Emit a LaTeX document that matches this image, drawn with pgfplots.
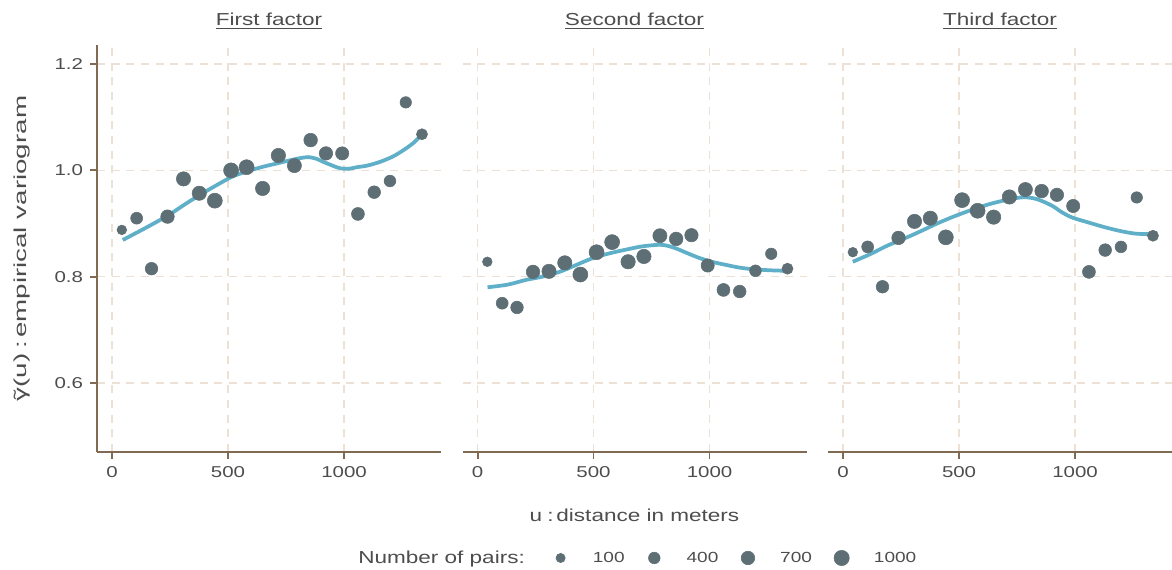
\documentclass[border=0pt]{standalone}
\usepackage{pgfplots}
\pgfplotsset{compat=1.18}
\usepackage{pgfplotstable}
\usepackage{fontspec}
\setmainfont{Liberation Sans}[FakeStretch=1.3]
\newfontfamily\ylabfont{Liberation Sans}[FakeStretch=1.6]

\definecolor{ptcol}{RGB}{94,110,117}
\definecolor{fitcol}{RGB}{94,175,199}
\definecolor{axcol}{RGB}{128,106,81}
\definecolor{gridcol}{RGB}{236,225,212}
\definecolor{txtcol}{RGB}{77,77,77}

% lag distance (m), empirical variogram, number of pairs
\pgfplotstableread{
u v n
42 0.888 150
106 0.910 450
170 0.815 550
239 0.913 700
308 0.984 830
376 0.957 830
443 0.943 950
513 1.000 950
580 1.006 950
649 0.966 840
717 1.028 840
786 1.009 800
856 1.057 720
922 1.032 680
992 1.032 650
1060 0.918 600
1130 0.959 560
1198 0.980 420
1266 1.128 380
1336 1.068 330
}\first
\pgfplotstableread{
u v n
42 0.828 150
106 0.750 450
170 0.742 550
239 0.809 700
308 0.810 830
376 0.826 830
443 0.804 950
513 0.846 950
580 0.865 950
649 0.828 840
717 0.838 840
786 0.877 800
856 0.871 720
922 0.878 680
992 0.821 650
1060 0.775 600
1130 0.772 560
1198 0.811 420
1266 0.843 380
1336 0.815 330
}\second
\pgfplotstableread{
u v n
42 0.846 150
106 0.856 450
170 0.781 550
239 0.873 700
308 0.904 830
376 0.910 830
443 0.874 950
513 0.944 950
580 0.924 950
649 0.912 840
717 0.950 840
786 0.964 800
856 0.961 720
922 0.954 680
992 0.933 650
1060 0.809 600
1130 0.850 560
1198 0.856 420
1266 0.949 380
1336 0.877 330
}\third

% smoothed curves
\pgfplotstableread{
u v
46 0.869
150 0.893
244 0.916
310 0.935
379 0.954
450 0.972
517 0.988
580 0.998
652 1.007
710 1.013
767 1.019
810 1.023
846 1.025
880 1.022
911 1.016
950 1.009
983 1.004
1020 1.003
1055 1.006
1100 1.009
1155 1.016
1210 1.026
1256 1.038
1300 1.052
1336 1.068
}\firstfit
\pgfplotstableread{
u v
43 0.780
130 0.785
210 0.794
280 0.800
353 0.809
420 0.821
497 0.835
570 0.844
641 0.851
710 0.857
784 0.860
820 0.858
856 0.853
900 0.845
957 0.835
1010 0.828
1072 0.822
1130 0.817
1187 0.814
1260 0.812
1331 0.811
}\secondfit
\pgfplotstableread{
u v
42 0.828
120 0.843
189 0.858
260 0.871
332 0.885
400 0.899
476 0.913
550 0.925
619 0.935
690 0.943
763 0.949
800 0.949
835 0.946
870 0.940
907 0.932
940 0.922
978 0.913
1010 0.908
1050 0.903
1120 0.894
1194 0.886
1260 0.881
1323 0.880
}\thirdfit

\newcommand{\gtilde}{\rlap{\hspace{0.09em}\char"02DC}γ}

\pgfplotsset{
  panel/.style={
    scale only axis, width=258pt, height=305.25pt,
    xmin=-65, xmax=1418, ymin=0.47, ymax=1.236,
    xtick={0,500,1000}, ytick={0.6,0.8,1.0,1.2},
    xticklabel style={/pgf/number format/1000 sep={}, yshift=-2.5pt},
    yticklabel style={/pgf/number format/.cd, fixed, fixed zerofill, precision=1, /tikz/xshift=-2pt},
    /pgf/number format/assume math mode=true,
    font=\fontsize{13}{15}\selectfont,
    tick label style={text=txtcol, font=\fontsize{11.8}{14}\selectfont},
    grid=major,
    major grid style={gridcol, line width=1.2pt, dash pattern=on 6pt off 5pt},
    axis x line*=bottom, axis y line*=left,
    axis line style={-, axcol, line width=1.5pt},
    tick align=outside, major tick length=5pt,
    tick style={axcol, line width=1.4pt},
    title style={at={(0.5,1)}, anchor=base, yshift=8.25pt, text=txtcol},
    clip=false,
  },
  noy/.style={
    y axis line style={draw=none}, ytick style={draw=none}, yticklabels={},
  },
  pts/.style={
    only marks, mark=*, scatter, forget plot,
    scatter/use mapped color={draw=ptcol, fill=ptcol},
    visualization depends on={\thisrow{n} \as \npairs},
    scatter/@pre marker code/.append style={/tikz/mark size={0.375*sqrt(69.6+0.164*\npairs)}},
  },
  fit/.style={fitcol, line width=2.8pt, smooth, no marks, forget plot},
}

\begin{document}
\begin{tikzpicture}
\begin{axis}[panel, at={(0pt,0pt)}, anchor=south west,
  title={\underline{First factor}},
  legend columns=4,
  legend style={at={(1.3237,-0.2604)}, anchor=west, draw=none, fill=none,
    inner sep=0pt, outer sep=0pt, font=\fontsize{11}{13}\selectfont,
    text=txtcol, nodes={inner sep=0pt}, /tikz/column sep=0pt,
    /tikz/every odd column/.append style={column sep=18pt},
    /tikz/every even column/.append style={column sep=16pt}},
]
\addlegendimage{legend image code/.code={\path (0pt,0pt) (12pt,0pt); \fill[ptcol] (6pt,0pt) circle[radius=3.48pt];}}
\addlegendentry{100}
\addlegendimage{legend image code/.code={\path (0pt,0pt) (12pt,0pt); \fill[ptcol] (6pt,0pt) circle[radius=4.36pt];}}
\addlegendentry{400}
\addlegendimage{legend image code/.code={\path (0pt,0pt) (12pt,0pt); \fill[ptcol] (6pt,0pt) circle[radius=5.09pt];}}
\addlegendentry{700}
\addlegendimage{legend image code/.code={\path (0pt,0pt) (12pt,0pt); \fill[ptcol] (6pt,0pt) circle[radius=5.73pt];}}
\addlegendentry{1000}
\addplot[pts] table[x=u, y=v] {\first};
\addplot[fit] table[x=u, y=v] {\firstfit};
\end{axis}

\begin{axis}[panel, noy, at={(274.125pt,0pt)}, anchor=south west,
  title={\underline{Second factor}}]
\addplot[pts] table[x=u, y=v] {\second};
\addplot[fit] table[x=u, y=v] {\secondfit};
\end{axis}

\begin{axis}[panel, noy, at={(548.25pt,0pt)}, anchor=south west,
  title={\underline{Third factor}}]
\addplot[pts] table[x=u, y=v] {\third};
\addplot[fit] table[x=u, y=v] {\thirdfit};
\end{axis}

\node[rotate=90, text=txtcol, font=\ylabfont\fontsize{13}{15}\selectfont]
  at (-56.25pt,152.6pt) {\gtilde(u)\hspace{4pt}:\hspace{2pt}empirical variogram};
\node[text=txtcol, font=\fontsize{13}{15}\selectfont]
  at (403.1pt,-47.25pt) {u\hspace{4pt}:\hspace{2pt}distance in meters};
\node[text=txtcol, font=\fontsize{13}{15}\selectfont, anchor=base west, inner sep=0pt]
  at (195.75pt,-84pt) {Number of pairs:};

\pgfresetboundingbox
\path (-72.75pt,-88.5pt) rectangle (806.25pt,339pt);
\end{tikzpicture}
\end{document}
